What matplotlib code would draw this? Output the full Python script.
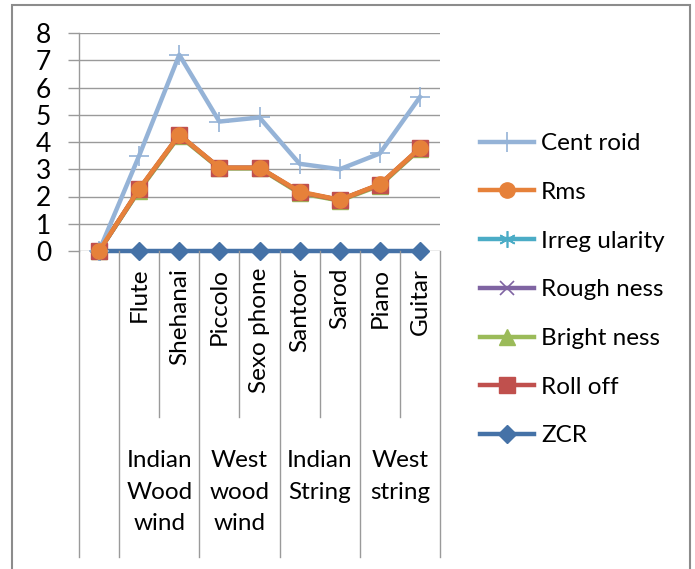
import matplotlib
matplotlib.use("Agg")
import matplotlib.pyplot as plt
import matplotlib.transforms as mtransforms
from matplotlib.lines import Line2D
from matplotlib.patches import Rectangle

plt.rcParams['font.family'] = ['Lato', 'DejaVu Sans']

categories = ["", "Flute", "Shehanai", "Piccolo", "Sexo phone", "Santoor", "Sarod", "Piano", "Guitar"]
groups = ["Indian\nWood\nwind", "West\nwood\nwind", "Indian\nString", "West\nstring"]
group_sizes = [2, 2, 2, 2]

centroid = [0, 3.5, 7.2, 4.75, 4.9, 3.2, 3.0, 3.58, 5.65]
rms = [0, 2.28, 4.27, 3.06, 3.06, 2.18, 1.88, 2.45, 3.78]
irregularity = [0, 2.25, 4.25, 3.05, 3.05, 2.15, 1.87, 2.43, 3.76]
roughness = [0, 2.25, 4.25, 3.05, 3.05, 2.15, 1.87, 2.43, 3.76]
brightness = [0, 2.22, 4.22, 3.03, 3.03, 2.12, 1.85, 2.4, 3.74]
rolloff = [0, 2.26, 4.26, 3.05, 3.05, 2.16, 1.87, 2.44, 3.77]
zcr = [0, 0, 0, 0, 0, 0, 0, 0, 0]
yticks = [0, 1, 2, 3, 4, 5, 6, 7, 8]

W, H = 695, 569
fig = plt.figure(figsize=(W / 100, H / 100), dpi=100)
ax = fig.add_axes([79 / W, 1 - 251 / H, (440 - 79) / W, (251 - 33) / H])

x = list(range(len(categories)))
fs = 17.5
grid_c = "#9a9a9a"

series = [
    ("Cent roid", centroid, "#95B3D7", dict(marker="+", ms=14, mew=1.2), 6),
    ("Rms", rms, "#E6813A", dict(marker="o", ms=11), 7),
    ("Irreg ularity", irregularity, "#4BACC6", dict(marker=(6, 2, 0), ms=12, mew=1.2), 3),
    ("Rough ness", roughness, "#7F64A2", dict(marker="x", ms=10, mew=1.2), 3.1),
    ("Bright ness", brightness, "#9BBB59", dict(marker="^", ms=11), 3.2),
    ("Roll off", rolloff, "#C0504D", dict(marker="s", ms=12), 3.3),
    ("ZCR", zcr, "#4572A7", dict(marker="D", ms=9), 5),
]
handles = []
for name, vals, col, mk, z in series:
    ln, = ax.plot(x, vals, color=col, lw=3.2, zorder=z, label=name,
                  mfc=col, mec=col, clip_on=False, **mk)
    handles.append(ln)

ax.set_xlim(-0.5, len(categories) - 0.5)
ax.set_ylim(0, 8)
ax.set_yticks(yticks)
ax.yaxis.grid(True, color=grid_c, lw=1.0)
ax.set_axisbelow(True)
ax.tick_params(axis="y", length=8, width=1, color=grid_c, pad=12, labelsize=fs + 1.5)
ax.set_xticks([])
for s in ["top", "right", "bottom"]:
    ax.spines[s].set_visible(False)
ax.spines["left"].set_color(grid_c)
ax.spines["left"].set_linewidth(1.0)

trans = mtransforms.blended_transform_factory(ax.transData, fig.transFigure)
y0 = 1 - 251 / H
y_long = 1 - 557 / H
y_short = 1 - 417 / H

# category tick labels (rotated)
for i, c in enumerate(categories):
    if c:
        ax.text(i, 1 - 268 / H, c, transform=trans, rotation=90, ha="center", va="top",
                fontsize=fs)

# separators
bounds = [-0.5]
pos = 0.5
for g in group_sizes:
    bounds.append(pos)
    pos += g
bounds.append(pos)
inner = []
pos = 0.5
for g in group_sizes:
    for k in range(1, g):
        inner.append(pos + k)
    pos += g
for b in bounds:
    fig.add_artist(Line2D([b, b], [y0, y_long], transform=trans, color=grid_c, lw=1.0))
for b in inner:
    fig.add_artist(Line2D([b, b], [y0, y_short], transform=trans, color=grid_c, lw=1.0))

# group labels
pos = 0.5
for g, n in zip(groups, group_sizes):
    ax.text(pos + n / 2, 1 - 450 / H, g, transform=trans, ha="center", va="top",
            fontsize=fs, linespacing=1.63)
    pos += n

# legend
leg = fig.legend(handles=handles, loc="upper left", bbox_to_anchor=(468 / W, 1 - 121 / H),
                 frameon=False, fontsize=fs, handlelength=2.2, labelspacing=1.14,
                 handletextpad=0.3, borderpad=0)

# outer frame
fig.add_artist(Rectangle((12 / W, -0.02), (690 - 12) / W, 1.02 - 5 / H,
                         transform=fig.transFigure, fill=False, edgecolor="#8c8c8c", lw=1.5))

fig.savefig("out.png", dpi=100)
